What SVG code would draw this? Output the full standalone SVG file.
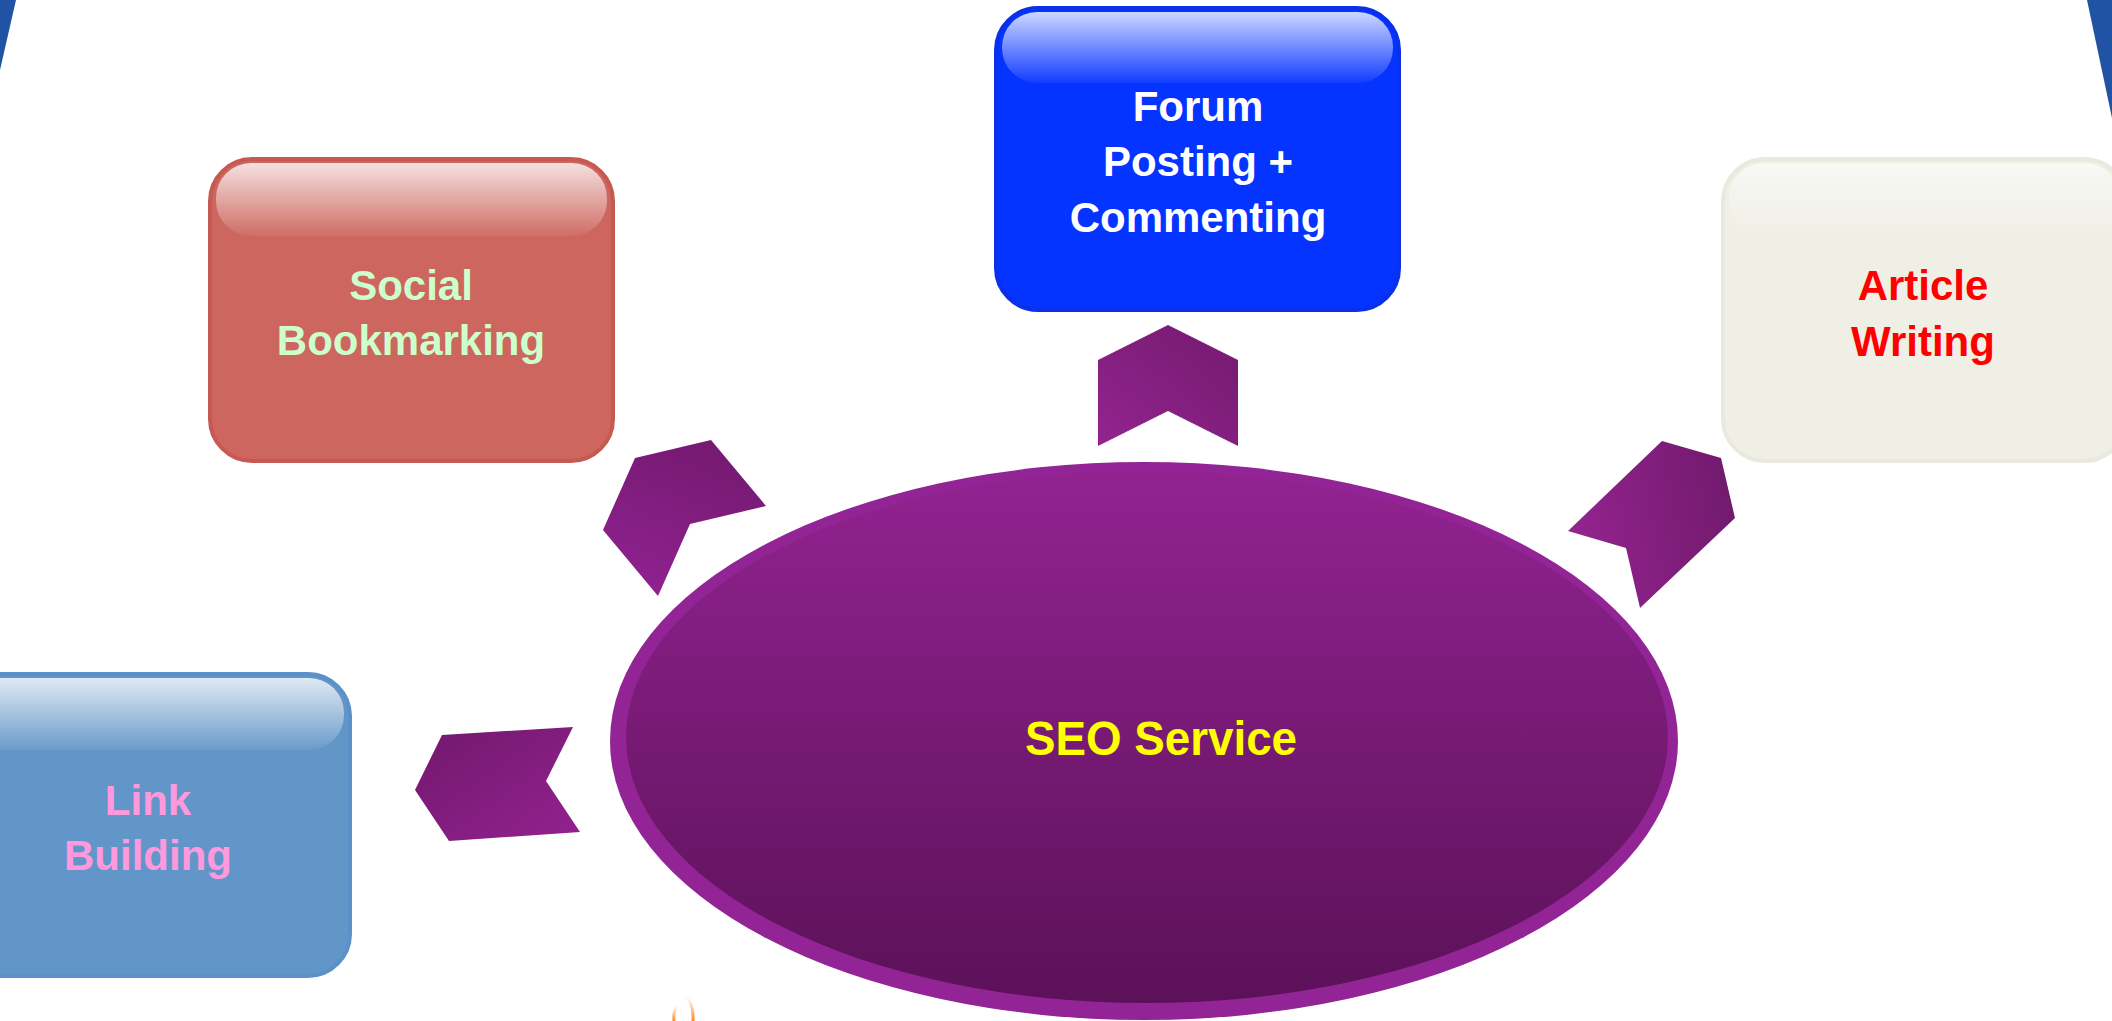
<svg xmlns="http://www.w3.org/2000/svg" width="2112" height="1021" viewBox="0 0 2112 1021">
  <defs>
    <style>
      .lbl { font-family: "Liberation Sans", Arial, sans-serif; font-weight: bold; font-size: 42px; text-anchor: middle; }
      .box { stroke-width: 4; }
      .chev { stroke: none; }
    </style>
    <linearGradient id="gloss" x1="0" y1="0" x2="0" y2="1">
      <stop offset="0" stop-color="#ffffff" stop-opacity="0.8"/>
      <stop offset="1" stop-color="#ffffff" stop-opacity="0.05"/>
    </linearGradient>
    <linearGradient id="glossLight" x1="0" y1="0" x2="0" y2="1">
      <stop offset="0" stop-color="#ffffff" stop-opacity="0.6"/>
      <stop offset="1" stop-color="#ffffff" stop-opacity="0"/>
    </linearGradient>
    <linearGradient id="ellGrad" x1="0" y1="0" x2="0" y2="1">
      <stop offset="0" stop-color="#922391"/>
      <stop offset="1" stop-color="#5b1158"/>
    </linearGradient>
    <linearGradient id="chevUp" x1="0" y1="1" x2="1" y2="0">
      <stop offset="0" stop-color="#93248f"/>
      <stop offset="1" stop-color="#731a6f"/>
    </linearGradient>
    <linearGradient id="chevSocial" x1="0.3" y1="1" x2="0.7" y2="0">
      <stop offset="0" stop-color="#8f2190"/>
      <stop offset="1" stop-color="#741a70"/>
    </linearGradient>
    <linearGradient id="chevArticle" x1="0" y1="0.6" x2="1" y2="0.4">
      <stop offset="0" stop-color="#94248f"/>
      <stop offset="1" stop-color="#721a6e"/>
    </linearGradient>
    <linearGradient id="chevLink" x1="0" y1="0" x2="1" y2="1">
      <stop offset="0" stop-color="#71186d"/>
      <stop offset="1" stop-color="#93228f"/>
    </linearGradient>
    <linearGradient id="flame" x1="0" y1="0" x2="0" y2="1">
      <stop offset="0" stop-color="#ff8a1a" stop-opacity="0"/>
      <stop offset="1" stop-color="#ff7a00" stop-opacity="0.9"/>
    </linearGradient>
  </defs>

  <rect x="0" y="0" width="2112" height="1021" fill="#ffffff"/>

  <!-- corner decorations -->
  <polygon points="0,0 16,0 0,70" fill="#2153a4"/>
  <polygon points="2087,0 2112,0 2112,118" fill="#2153a4"/>

  <!-- small cut-off orange shape at bottom -->
  <path d="M674,1021 Q673,1012 677,1006" fill="none" stroke="url(#flame)" stroke-width="3"/>
  <path d="M686,997 Q694,1004 693,1021" fill="none" stroke="url(#flame)" stroke-width="3"/>

  <!-- connectors (chevrons) -->
  <g id="connectors">
    <polygon class="chev" fill="url(#chevUp)" points="1168,325 1238,360 1238,446 1168,411 1098,446 1098,360"/>
    <polygon class="chev" fill="url(#chevSocial)" points="635,458 711,440 766,506 690,524 658,596 603,530"/>
    <polygon class="chev" fill="url(#chevArticle)" points="1662,441 1721,458 1735,518 1640,608 1626,548 1568,531"/>
    <polygon class="chev" fill="url(#chevLink)" points="442,735 573,727 546,781 580,832 449,841 415,790"/>
  </g>

  <!-- center node -->
  <g id="node-seo">
    <ellipse cx="1144" cy="741" rx="534" ry="279" fill="#922496"/>
    <ellipse cx="1147" cy="737" rx="521" ry="266" fill="url(#ellGrad)"/>
    <text x="1161" y="755" font-family="Liberation Sans, Arial, sans-serif" font-weight="bold" font-size="48" text-anchor="middle" fill="#ffff00" textLength="272" lengthAdjust="spacingAndGlyphs">SEO Service</text>
  </g>

  <!-- Forum node -->
  <g id="node-forum">
    <rect class="box" x="996" y="8" width="403" height="302" rx="42" ry="42" fill="#0533ff" stroke="#0b30ea"/>
    <rect x="1002" y="12" width="391" height="71" rx="35" ry="35" fill="url(#gloss)"/>
    <text class="lbl" x="1198" y="121" fill="#ffffff">Forum</text>
    <text class="lbl" x="1198" y="176" fill="#ffffff">Posting +</text>
    <text class="lbl" x="1198" y="232" fill="#ffffff">Commenting</text>
  </g>

  <!-- Social Bookmarking node -->
  <g id="node-social">
    <rect class="box" x="210" y="159" width="403" height="302" rx="42" ry="42" fill="#cd665e" stroke="#c65a52"/>
    <rect x="216" y="163" width="391" height="73" rx="35" ry="35" fill="url(#gloss)"/>
    <text class="lbl" x="411" y="300" fill="#ccffcc">Social</text>
    <text class="lbl" x="411" y="355" fill="#ccffcc">Bookmarking</text>
  </g>

  <!-- Article Writing node -->
  <g id="node-article">
    <rect class="box" x="1723" y="159" width="403" height="302" rx="42" ry="42" fill="#efefe6" stroke="#e9e9dd"/>
    <rect x="1729" y="163" width="391" height="73" rx="35" ry="35" fill="url(#glossLight)"/>
    <text class="lbl" x="1923" y="300" fill="#ff0000">Article</text>
    <text class="lbl" x="1923" y="356" fill="#ff0000">Writing</text>
  </g>

  <!-- Link Building node -->
  <g id="node-link">
    <rect class="box" x="-53" y="674" width="403" height="302" rx="42" ry="42" fill="#6396c8" stroke="#5b90c8"/>
    <rect x="-47" y="678" width="391" height="72" rx="35" ry="35" fill="url(#gloss)"/>
    <text class="lbl" x="148" y="815" fill="#ff99dd">Link</text>
    <text class="lbl" x="148" y="870" fill="#ff99dd">Building</text>
  </g>
</svg>
